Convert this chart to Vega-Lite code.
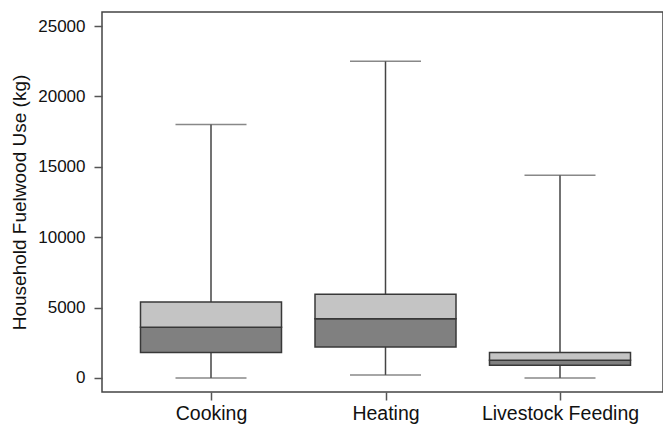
{
  "$schema": "https://vega.github.io/schema/vega-lite/v6.json",
  "autosize": "none",
  "padding": {"left": 102, "top": 12, "right": 0, "bottom": 35},
  "width": 561,
  "height": 380,
  "background": "white",
  "config": {
    "view": {"stroke": "#444444", "strokeWidth": 1.5},
    "font": "Liberation Sans",
    "axis": {"grid": false, "domain": false, "tickColor": "#555555", "tickWidth": 1.5, "labelColor": "#111111", "titleColor": "#111111", "labelFont": "Liberation Sans", "titleFont": "Liberation Sans"}
  },
  "data": {
    "values": [
      {"use": "Cooking", "min": 0, "q1": 1800, "median": 3600, "q3": 5400, "max": 18000},
      {"use": "Heating", "min": 200, "q1": 2200, "median": 4200, "q3": 5950, "max": 22500},
      {"use": "Livestock Feeding", "min": 0, "q1": 900, "median": 1250, "q3": 1800, "max": 14400}
    ]
  },
  "encoding": {
    "x": {
      "field": "use", "type": "nominal", "sort": null,
      "scale": {"type": "point", "range": [109, 458], "padding": 0},
      "axis": {"title": null, "labelAngle": 0, "labelFontSize": 19.5, "tickSize": 8, "labelPadding": 4}
    }
  },
  "layer": [
    {
      "mark": {"type": "rule", "color": "#444444", "strokeWidth": 1.5},
      "encoding": {
        "y": {
          "field": "min", "type": "quantitative",
          "scale": {"domain": [-1000, 26000], "nice": false, "zero": false},
          "axis": {"title": "Household Fuelwood Use (kg)", "titleFontSize": 19, "titleFontWeight": "normal", "titlePadding": 8, "values": [0, 5000, 10000, 15000, 20000, 25000], "format": "d", "labelFontSize": 17, "tickSize": 8, "labelPadding": 9}
        },
        "y2": {"field": "max"}
      }
    },
    {
      "mark": {"type": "tick", "color": "#555555", "thickness": 1.5, "size": 71},
      "encoding": {"y": {"field": "min", "type": "quantitative"}}
    },
    {
      "mark": {"type": "tick", "color": "#555555", "thickness": 1.5, "size": 71},
      "encoding": {"y": {"field": "max", "type": "quantitative"}}
    },
    {
      "mark": {"type": "bar", "fill": "#808080", "stroke": "#383838", "strokeWidth": 1.5, "size": 141},
      "encoding": {"y": {"field": "q1", "type": "quantitative"}, "y2": {"field": "median"}}
    },
    {
      "mark": {"type": "bar", "fill": "#c4c4c4", "stroke": "#383838", "strokeWidth": 1.5, "size": 141},
      "encoding": {"y": {"field": "median", "type": "quantitative"}, "y2": {"field": "q3"}}
    }
  ]
}
